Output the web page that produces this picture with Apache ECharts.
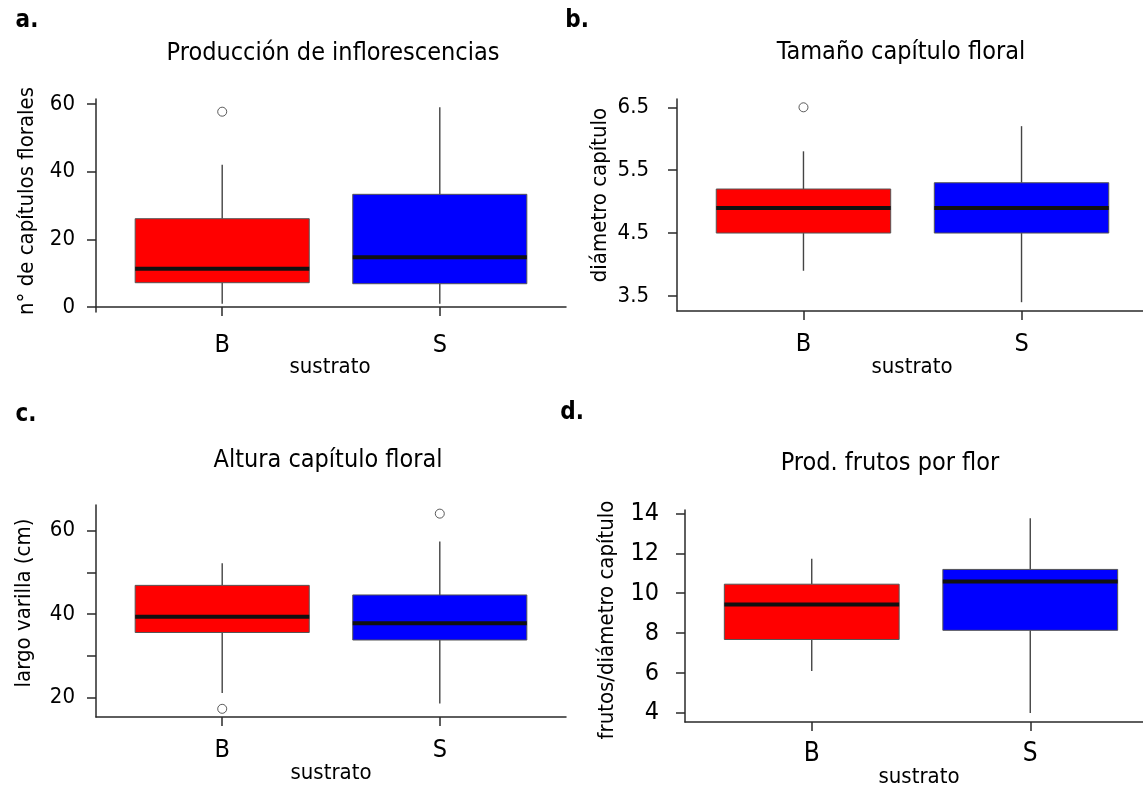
<!DOCTYPE html>
<html>
<head>
<meta charset="utf-8">
<script src="https://cdn.jsdelivr.net/npm/echarts@6/dist/echarts.min.js"></script>
<style>html,body{margin:0;padding:0;background:#fff}#c{width:1143px;height:789px}</style>
</head>
<body>
<div id="c"></div>
<script>
// ---- data ----
const categories = ['B', 'S'];
const boxColors = ['#ff0000', '#0000ff'];
// box stats: [min whisker, Q1, median, Q3, max whisker]
const inflorB = [1, 7.2, 11.3, 26.1, 42];
const inflorS = [1, 6.9, 14.7, 33.3, 59];
const inflorOutliers = [['B', 57.7]];
const tamanoB = [3.9, 4.5, 4.9, 5.2, 5.8];
const tamanoS = [3.4, 4.5, 4.9, 5.3, 6.2];
const tamanoOutliers = [['B', 6.5]];
const alturaB = [21.1, 35.6, 39.4, 46.9, 52.2];
const alturaS = [18.6, 33.8, 37.8, 44.6, 57.4];
const alturaOutliers = [['B', 17.3], ['S', 64.1]];
const frutosB = [6.1, 7.68, 9.43, 10.45, 11.72];
const frutosS = [4.0, 8.14, 10.59, 11.19, 13.75];
const frutosOutliers = [];
// tick values
const ticksA = [0, 20, 40, 60];
const ticksB = [3.5, 4.5, 5.5, 6.5];
const ticksC = [20, 30, 40, 50, 60];
const labelsC = [20, 40, 60];
const ticksD = [4, 6, 8, 10, 12, 14];

const titles = ['Producción de inflorescencias', 'Tamaño capítulo floral', 'Altura capítulo floral', 'Prod. frutos por flor'];
const yNames = ['n° de capítulos florales', 'diámetro capítulo', 'largo varilla (cm)', 'frutos/diámetro capítulo'];
const xName = 'sustrato';
const panelLetters = ['a.', 'b.', 'c.', 'd.'];

const FONT = '"DejaVu Sans Condensed", "DejaVu Sans", sans-serif';
const AXIS_COLOR = '#2a2a2a';

function boxRows(b, s) {
  return [[1].concat(b), [2].concat(s)];
}
function outlierRows(list) {
  return list.map(o => [categories.indexOf(o[0]) + 1, o[1]]);
}

function renderBox(params, api) {
  const x = api.value(0);
  const pMin = api.coord([x, api.value(1)]);
  const pQ1 = api.coord([x, api.value(2)]);
  const pMd = api.coord([x, api.value(3)]);
  const pQ3 = api.coord([x, api.value(4)]);
  const pMax = api.coord([x, api.value(5)]);
  const half = api.size([0.4, 0])[0];
  const col = boxColors[params.dataIndex];
  return {
    type: 'group',
    children: [
      {type: 'line', shape: {x1: pMin[0], y1: pMin[1], x2: pQ1[0], y2: pQ1[1]}, style: {stroke: '#444', lineWidth: 1.4}},
      {type: 'line', shape: {x1: pQ3[0], y1: pQ3[1], x2: pMax[0], y2: pMax[1]}, style: {stroke: '#444', lineWidth: 1.4}},
      {type: 'rect', shape: {x: pQ3[0] - half, y: pQ3[1], width: 2 * half, height: pQ1[1] - pQ3[1]},
        style: {fill: col, stroke: '#555', lineWidth: 1}},
      {type: 'line', shape: {x1: pMd[0] - half, y1: pMd[1], x2: pMd[0] + half, y2: pMd[1]}, style: {stroke: '#111', lineWidth: 4}}
    ]
  };
}

const panels = [
  {grid: {left: 96, top: 99, width: 470, height: 213}, ymin: -1.45, ymax: 61.45, ticks: ticksA, labels: ticksA,
   box: boxRows(inflorB, inflorS), out: outlierRows(inflorOutliers), yFont: 22, yMargin: 21, xFont: 25, xMargin: 21, lab: v => String(v)},
  {grid: {left: 677, top: 99, width: 471, height: 212}, ymin: 3.26, ymax: 6.632, ticks: ticksB, labels: ticksB,
   box: boxRows(tamanoB, tamanoS), out: outlierRows(tamanoOutliers), yFont: 22, yMargin: 28, xFont: 25, xMargin: 21, lab: v => v.toFixed(1)},
  {grid: {left: 96, top: 505, width: 470, height: 212}, ymin: 15.34, ymax: 66.17, ticks: ticksC, labels: labelsC,
   box: boxRows(alturaB, alturaS), out: outlierRows(alturaOutliers), yFont: 22, yMargin: 21, xFont: 25, xMargin: 21, lab: v => String(v)},
  {grid: {left: 685, top: 510, width: 472, height: 212}, ymin: 3.549, ymax: 14.166, ticks: ticksD, labels: ticksD,
   box: boxRows(frutosB, frutosS), out: outlierRows(frutosOutliers), yFont: 25, yMargin: 26, xFont: 26, xMargin: 19, lab: v => String(v)}
];

const option = {
  animation: false,
  backgroundColor: '#fff',
  grid: [], xAxis: [], yAxis: [], series: [],
  graphic: []
};

panels.forEach((p, i) => {
  option.grid.push(Object.assign({outerBoundsMode: 'none', containLabel: false}, p.grid));
  option.xAxis.push({
    type: 'value', gridIndex: i, min: 0.42, max: 2.58,
    axisLine: {show: true, lineStyle: {color: AXIS_COLOR, width: 1.5}},
    axisTick: {show: true, length: 9, customValues: [1, 2], lineStyle: {color: AXIS_COLOR, width: 1.5}},
    axisLabel: {show: true, customValues: [1, 2], formatter: v => categories[Math.round(v) - 1], fontFamily: FONT, fontSize: p.xFont, color: '#000', margin: p.xMargin},
    splitLine: {show: false}
  });
  option.yAxis.push({
    type: 'value', gridIndex: i, min: p.ymin, max: p.ymax,
    axisLine: {show: true, lineStyle: {color: AXIS_COLOR, width: 1.5}},
    axisTick: {show: true, length: 9, customValues: p.ticks, lineStyle: {color: AXIS_COLOR, width: 1.5}},
    axisLabel: {show: true, customValues: p.labels, formatter: p.lab, fontFamily: FONT, fontSize: p.yFont, color: '#000', margin: p.yMargin},
    splitLine: {show: false}
  });
  option.series.push({
    type: 'custom', xAxisIndex: i, yAxisIndex: i, renderItem: renderBox, data: p.box, clip: false
  });
  option.series.push({
    type: 'scatter', xAxisIndex: i, yAxisIndex: i, data: p.out, symbol: 'circle', symbolSize: 9,
    itemStyle: {color: '#fff', borderColor: '#333', borderWidth: 1}
  });
});

function txt(x, y, text, size, opts) {
  return Object.assign({
    type: 'text', x: x, y: y,
    style: Object.assign({text: text, fontFamily: FONT, fontSize: size, fill: '#000', align: 'center', verticalAlign: 'middle'}, (opts && opts.style) || {})
  }, opts && opts.rotation !== undefined ? {rotation: opts.rotation} : {});
}

// panel titles
option.graphic.push(txt(333, 53, titles[0], 25));
option.graphic.push(txt(901, 52, titles[1], 25));
option.graphic.push(txt(328, 460, titles[2], 25));
option.graphic.push(txt(890, 463, titles[3], 25));
// panel letters
option.graphic.push(txt(27, 21, panelLetters[0], 24, {style: {fontWeight: 'bold'}}));
option.graphic.push(txt(577, 21, panelLetters[1], 24, {style: {fontWeight: 'bold'}}));
option.graphic.push(txt(26, 415, panelLetters[2], 24, {style: {fontWeight: 'bold'}}));
option.graphic.push(txt(572, 413, panelLetters[3], 24, {style: {fontWeight: 'bold'}}));
// x names
option.graphic.push(txt(330, 367, xName, 22));
option.graphic.push(txt(912, 367, xName, 22));
option.graphic.push(txt(331, 773, xName, 22));
option.graphic.push(txt(919, 777, xName, 22));
// y names (rotated)
option.graphic.push(txt(27, 201, yNames[0], 22, {rotation: Math.PI / 2}));
option.graphic.push(txt(600, 195, yNames[1], 22, {rotation: Math.PI / 2}));
option.graphic.push(txt(24, 603, yNames[2], 22, {rotation: Math.PI / 2}));
option.graphic.push(txt(607, 620, yNames[3], 22, {rotation: Math.PI / 2}));

const chart = echarts.init(document.getElementById('c'), null, {renderer: 'canvas'});
chart.setOption(option);
</script>
</body>
</html>
